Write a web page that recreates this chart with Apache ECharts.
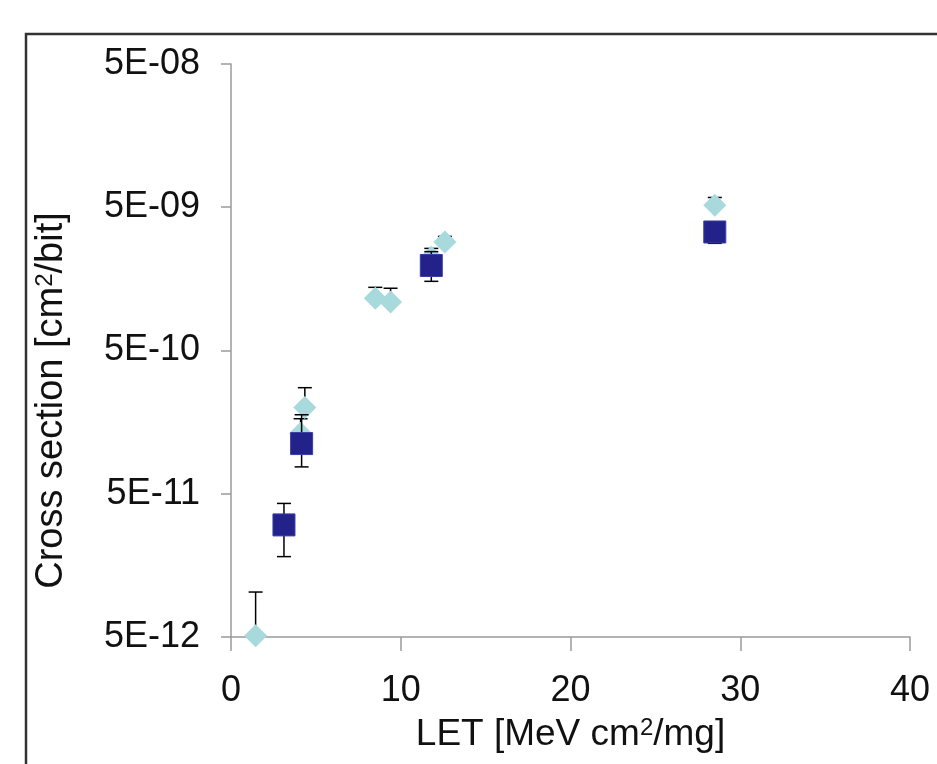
<!DOCTYPE html>
<html>
<head>
<meta charset="utf-8">
<script src="https://cdn.jsdelivr.net/npm/echarts@6/dist/echarts.min.js"></script>
<style>
html,body{margin:0;padding:0;background:#fff;}
#c{width:937px;height:764px;}
</style>
</head>
<body>
<div id="c"></div>
<script>
// Series A: light blue diamonds (value, upper error bar)
const diamondX  = [1.45, 4.1, 4.35, 8.5, 9.4, 11.8, 12.6, 28.5];
const diamondY  = [5.1e-12, 1.32e-10, 2.0e-10, 1.16e-9, 1.09e-9, 2.24e-9, 2.86e-9, 5.16e-9];
const diamondHi = [1.03e-11, 1.67e-10, 2.75e-10, 1.38e-9, 1.36e-9, 2.58e-9, 3.13e-9, 5.85e-9];
// Series B: navy squares (value, lower and upper error bar)
const squareX  = [3.12, 4.16, 11.8, 28.5];
const squareY  = [3.03e-11, 1.12e-10, 1.96e-9, 3.36e-9];
const squareLo = [1.82e-11, 7.7e-11, 1.52e-9, 2.8e-9];
const squareHi = [4.28e-11, 1.78e-10, 2.45e-9, 3.5e-9];
// Axis ticks
const xTicks = [0, 10, 20, 30, 40];
const yTicks = [5e-12, 5e-11, 5e-10, 5e-9, 5e-8];

const chart = echarts.init(document.getElementById('c'), null, {renderer: 'canvas'});

function errRender(params, api) {
  const x = api.value(0), lo = api.value(1), hi = api.value(2), hasLo = api.value(3);
  const pLo = api.coord([x, lo]);
  const pHi = api.coord([x, hi]);
  const hw = 7;
  const st = {stroke: '#000', lineWidth: 1.5};
  const children = [
    {type: 'line', shape: {x1: pLo[0], y1: pLo[1], x2: pHi[0], y2: pHi[1]}, style: st},
    {type: 'line', shape: {x1: pHi[0] - hw, y1: pHi[1], x2: pHi[0] + hw, y2: pHi[1]}, style: st}
  ];
  if (hasLo) children.push({type: 'line', shape: {x1: pLo[0] - hw, y1: pLo[1], x2: pLo[0] + hw, y2: pLo[1]}, style: st});
  return {type: 'group', children};
}

const diamondData = diamondX.map((x, i) => [x, diamondY[i]]);
const squareData = squareX.map((x, i) => [x, squareY[i]]);
const diamondErr = diamondX.map((x, i) => [x, diamondY[i], diamondHi[i], 0]);
const squareErr = squareX.map((x, i) => [x, squareLo[i], squareHi[i], 1]);

const fontFam = '"Liberation Sans", Arial, sans-serif';
const supStyle = {fontFamily: fontFam, fontSize: 24, verticalAlign: 'top', padding: [0, 0, 14, 0], color: '#111'};

chart.setOption({
  animation: false,
  backgroundColor: '#fff',
  grid: {left: 231, top: 64, right: 27, bottom: 127, containLabel: false},
  graphic: [{
    type: 'rect', z: 100,
    shape: {x: 26, y: 34, width: 1000, height: 800},
    style: {fill: 'none', stroke: '#333', lineWidth: 2.5}
  }],
  xAxis: {
    type: 'value', min: xTicks[0], max: xTicks[xTicks.length - 1], interval: 10,
    name: 'LET [MeV cm{sup|2}/mg]',
    nameLocation: 'middle', nameGap: 79,
    nameTextStyle: {fontFamily: fontFam, fontSize: 37, color: '#111', rich: {sup: supStyle}},
    axisLine: {show: true, onZero: false, lineStyle: {color: '#9a9a9a', width: 1.5}},
    axisTick: {show: true, inside: false, length: 14, lineStyle: {color: '#9a9a9a', width: 1.5}},
    axisLabel: {fontFamily: fontFam, fontSize: 36, color: '#111', margin: 36},
    splitLine: {show: false}
  },
  yAxis: {
    type: 'log', logBase: 10, min: yTicks[0], max: yTicks[yTicks.length - 1], interval: 1,
    name: 'Cross section [cm{sup|2}/bit]',
    nameLocation: 'middle', nameGap: 160, nameRotate: 90,
    nameTextStyle: {fontFamily: fontFam, fontSize: 38, color: '#111', padding: [0, 100, 0, 0], rich: {sup: supStyle}},
    axisLine: {show: true, onZero: false, lineStyle: {color: '#9a9a9a', width: 1.5}},
    axisTick: {show: true, inside: false, length: 10, lineStyle: {color: '#9a9a9a', width: 1.5}},
    axisLabel: {fontFamily: fontFam, fontSize: 36, color: '#111', margin: 31,
      formatter: v => { const e = Math.round(Math.log10(v / 5)); return '5E-' + String(-e).padStart(2, '0'); }},
    splitLine: {show: false}
  },
  series: [
    {type: 'custom', name: 'errA', data: diamondErr, renderItem: errRender, z: 1, clip: false},
    {type: 'scatter', name: 'A', data: diamondData, symbol: 'diamond', symbolSize: 23, z: 2, clip: false,
      itemStyle: {color: '#a8d9dc', opacity: 1}},
    {type: 'custom', name: 'errB', data: squareErr, renderItem: errRender, z: 3, clip: false},
    {type: 'scatter', name: 'B', data: squareData, symbol: 'rect', symbolSize: 22, z: 4, clip: false,
      itemStyle: {color: '#22228a', borderColor: '#3b3ba8', borderWidth: 1, opacity: 1}}
  ]
});
</script>
</body>
</html>
